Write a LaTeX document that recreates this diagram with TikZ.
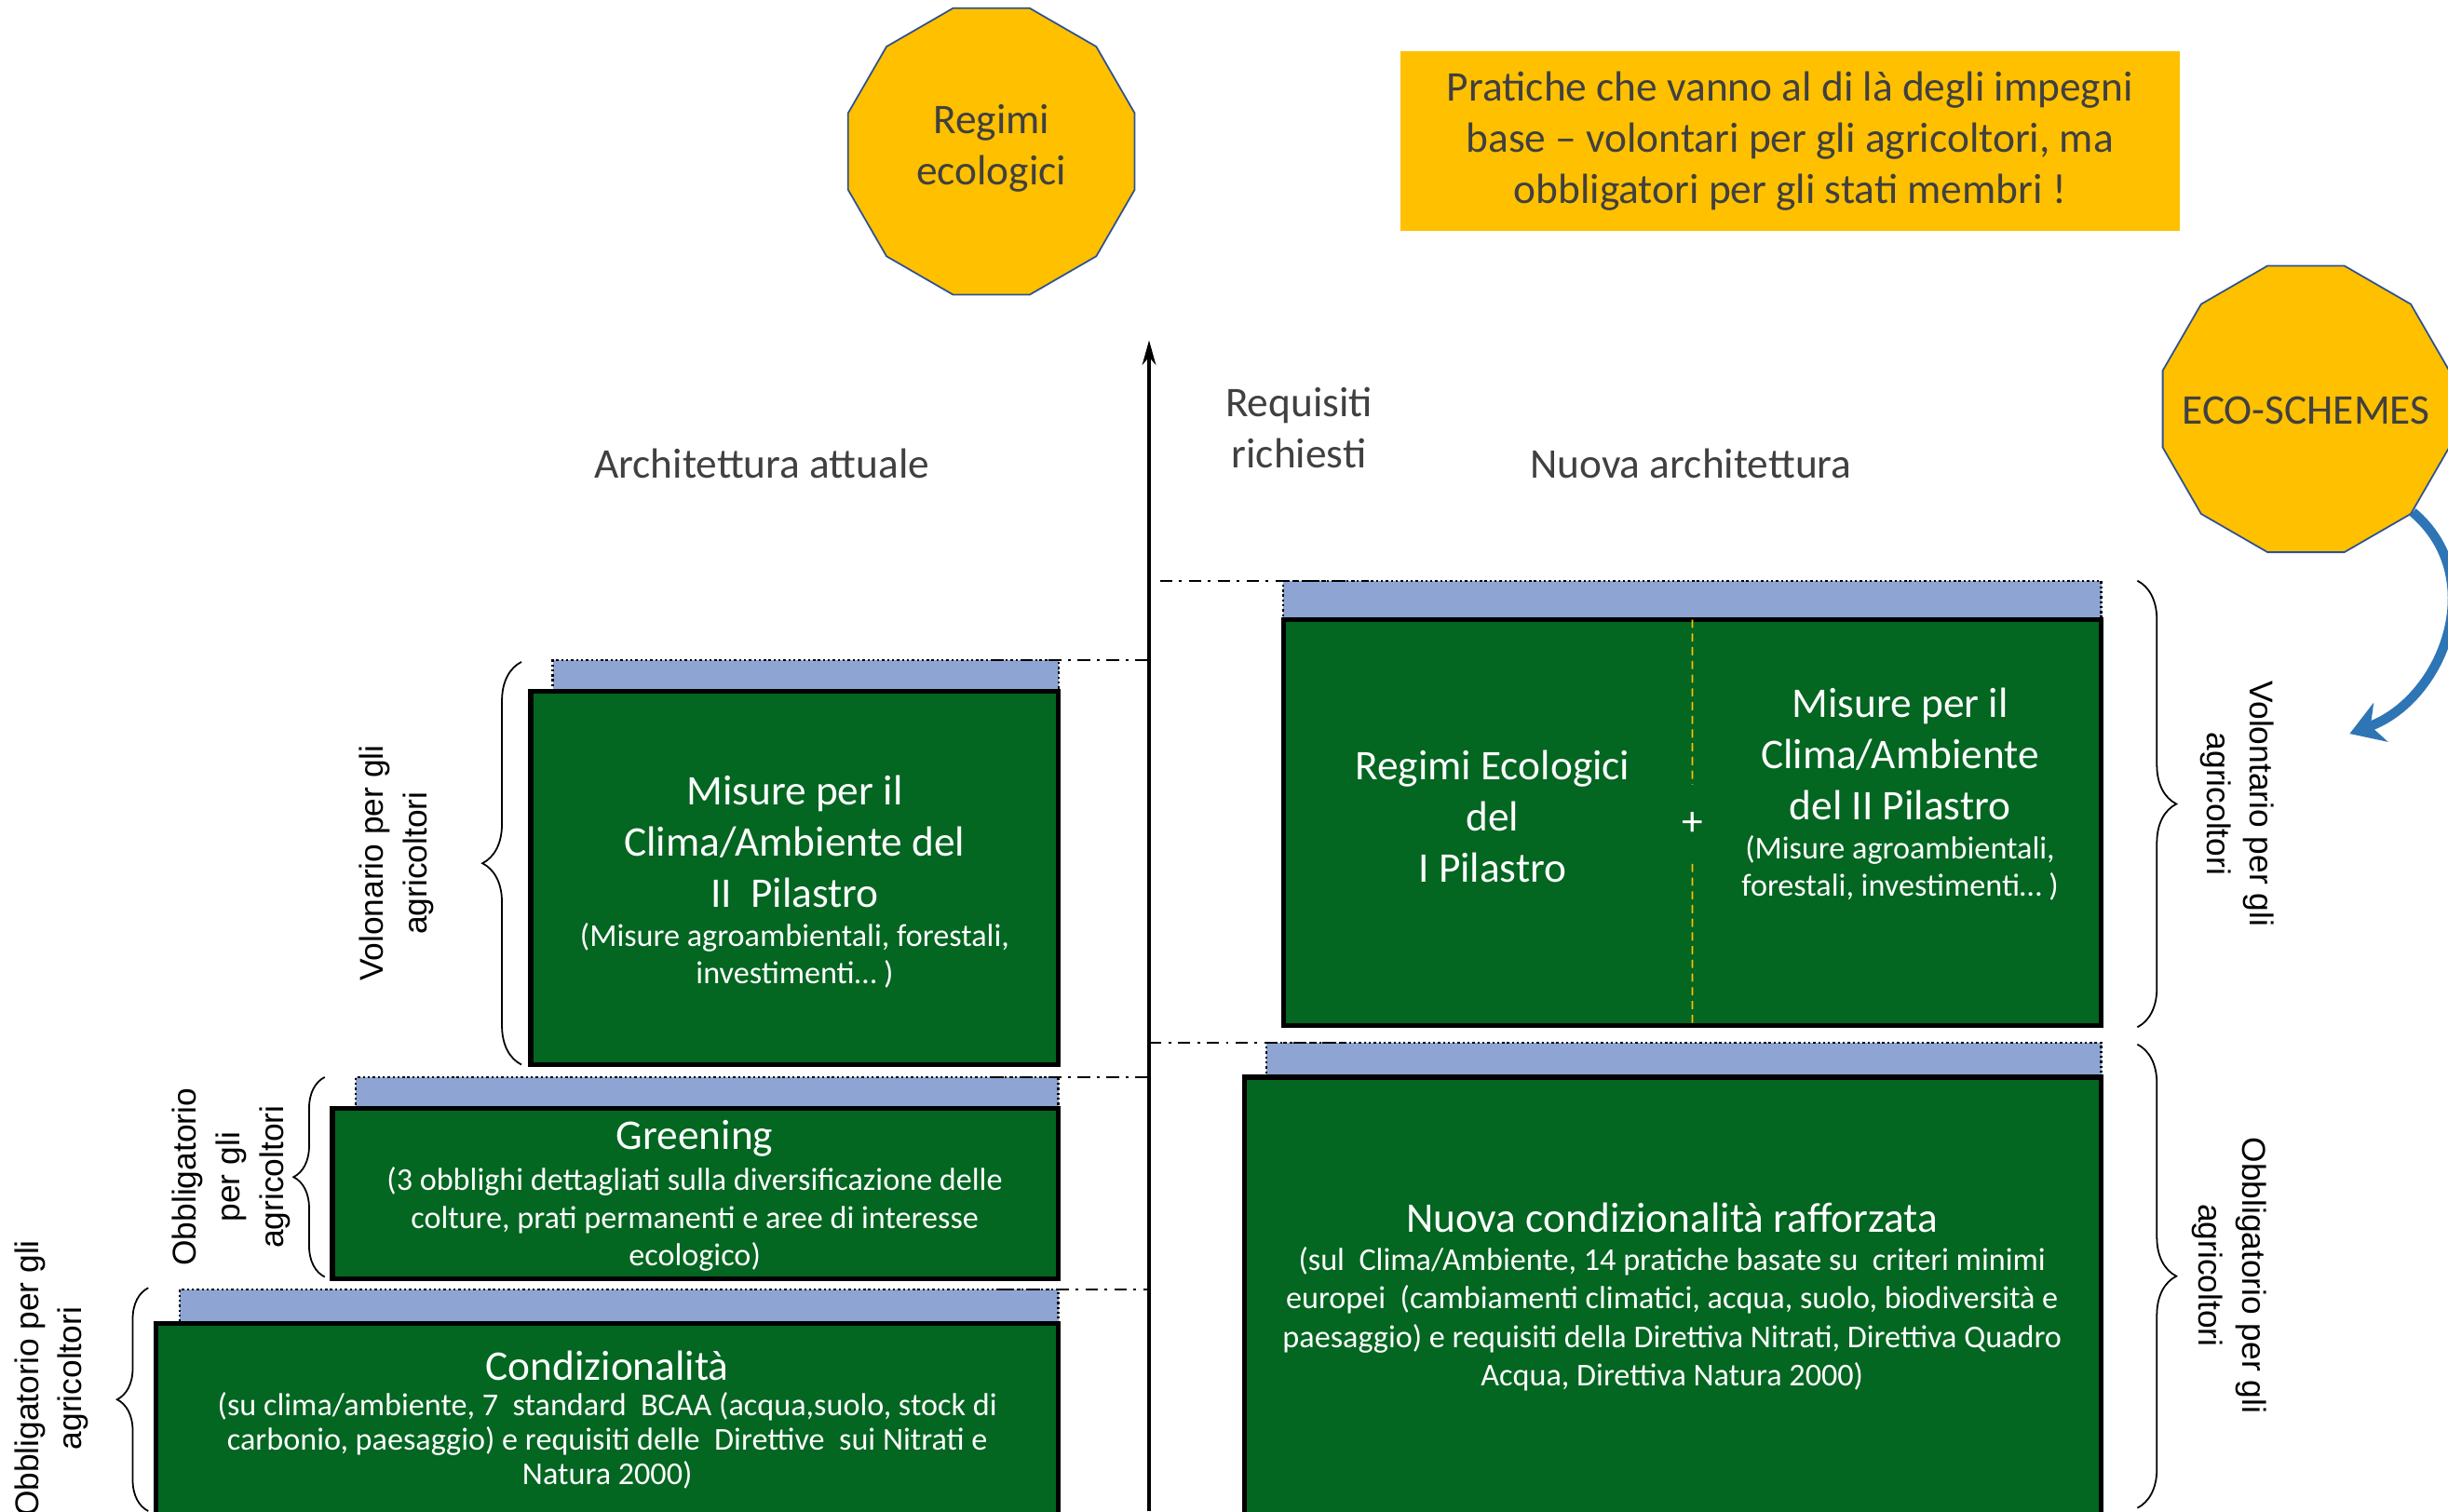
\documentclass[tikz,border=0pt]{standalone}
\usepackage{fontspec}
\setmainfont{Carlito}
\newfontfamily\arialfont{Liberation Sans}
\usetikzlibrary{shapes.geometric,decorations.pathreplacing,arrows.meta}

\definecolor{boxgreen}{RGB}{3,102,33}
\definecolor{barblue}{RGB}{142,165,211}
\definecolor{ecoyellow}{RGB}{255,192,0}
\definecolor{ecoborder}{RGB}{47,82,143}
\definecolor{textgray}{RGB}{64,64,64}
\definecolor{arrowblue}{RGB}{46,117,182}

\tikzset{greenbox/.style={draw=black,line width=1.8pt,fill=boxgreen,inner sep=0pt,outer sep=0pt,anchor=north west},
        bluebar/.style={draw=black,densely dotted,line width=0.8pt,fill=barblue,inner sep=0pt,outer sep=0pt,anchor=north west},
        ecoshape/.style={regular polygon,regular polygon sides=12,fill=ecoyellow,draw=ecoborder,line width=0.6pt,
          minimum size=3.8cm,inner sep=0pt},
        ecotext/.style={text=textgray,align=center,font=\fontsize{15.4}{18.7}\selectfont},
        boxtitle/.style={text=white,align=center,font=\fontsize{15.4}{18.7}\selectfont},
        boxdetail/.style={text=white,align=center,font=\fontsize{11.6}{13.6}\selectfont},
        archlabel/.style={text=textgray,align=center,font=\fontsize{15.4}{18.7}\selectfont},
        sidenote/.style={align=center,font=\arialfont\fontsize{12}{15.9}\selectfont},
        guideline/.style={dash pattern=on 4.5pt off 2.5pt on 1pt off 2.5pt,line width=0.8pt},
        bracket/.style={decorate,decoration={brace,amplitude=#1},line width=0.6pt}}

\begin{document}
\begin{tikzpicture}[x=0.02cm,y=-0.02cm]
        \useasboundingbox (0,0) rectangle (1568,968);

        % eco-schemes and note
        \node[ecoshape] (regimi) at (635,97) {};
        \node[ecotext] (regimit) at (635,95) {Regimi\\ecologici};
        \node[ecoshape] (ecos) at (1477,262) {};
        \node[ecotext] (ecost) at (1477,263) {ECO-SCHEMES};
        \node[fill=ecoyellow,minimum width=9.98cm,minimum height=2.3cm,text=textgray,align=center,
          font=\fontsize{15.4}{18.7}\selectfont] (note) at (1146.5,90.5)
          {Pratiche che vanno al di là degli impegni\\base – volontari per gli agricoltori, ma\\obbligatori per gli stati membri !};

        % axis
        \coordinate (axbot) at (736,968);
        \coordinate (axtop) at (736,218);
        \draw[line width=1.1pt,-{Stealth[length=9pt,width=5pt]}] (axbot) -- (axtop);
        \node[archlabel] (req) at (832,274) {Requisiti\\richiesti};
        \node[archlabel] (attuale) at (488,297) {Architettura attuale};
        \node[archlabel] (nuova) at (1083,297) {Nuova architettura};

        % current architecture
        \node[bluebar,minimum width=11.26cm,minimum height=0.44cm] (condbar) at (115,826) {};
        \node[greenbox,minimum width=11.56cm,minimum height=3.04cm] (cond) at (100,848) {};
        \node[bluebar,minimum width=9cm,minimum height=0.4cm] (grbar) at (228,690) {};
        \node[greenbox,minimum width=9.3cm,minimum height=2.18cm] (gr) at (213,710) {};
        \node[bluebar,minimum width=6.48cm,minimum height=0.4cm] (misbar) at (354,423) {};
        \node[greenbox,minimum width=6.76cm,minimum height=4.78cm] (mis) at (340,443) {};

        \node[boxtitle] (condt) at (389,875) {Condizionalità};
        \node[boxdetail,font=\fontsize{11.6}{12.5}\selectfont] (condd) at (389,923)
          {(su clima/ambiente, 7~~standard~~BCAA (acqua,suolo, stock di\\carbonio, paesaggio) e requisiti delle~~Direttive~~sui Nitrati e\\Natura 2000)};
        \node[boxtitle] (grt) at (445,729) {Greening};
        \node[boxdetail] (grd) at (445,781)
          {(3 obblighi dettagliati sulla diversificazione delle\\colture, prati permanenti e aree di interesse\\ecologico)};
        \node[boxtitle] (mist) at (509,539) {Misure per il\\Clima/Ambiente del\\II~~Pilastro};
        \node[boxdetail] (misd) at (509,612) {(Misure agroambientali, forestali,\\investimenti… )};

        \draw[guideline] ([xshift=-0.86cm]misbar.north east) -- (misbar.north east -| axbot);
        \draw[guideline] ([xshift=-0.86cm]grbar.north east) -- (grbar.north east -| axbot);
        \draw[guideline] ([xshift=-0.76cm]condbar.north east) -- (condbar.north east -| axbot);

        % new architecture
        \node[bluebar,minimum width=10.48cm,minimum height=0.5cm] (ecobar) at (822,372) {};
        \node[greenbox,minimum width=10.48cm,minimum height=5.2cm] (eco) at (822,397) {};
        \node[bluebar,minimum width=10.7cm,minimum height=0.44cm] (nuovabar) at (811,668) {};
        \node[greenbox,minimum width=10.98cm,minimum height=6.2cm] (nuovabox) at (797,690) {};

        \node[boxtitle,minimum height=1cm] (plus) at (1084,528) {+};
        \draw[ecoyellow,densely dashed,line width=0.6pt] (eco.north) -- (plus.north);
        \draw[ecoyellow,densely dashed,line width=0.6pt] (plus.south) -- (eco.south);
        \node[boxtitle] (regt) at (956,523) {Regimi Ecologici\\del\\I Pilastro};
        \node[boxtitle] (cat) at (1217,483) {Misure per il\\Clima/Ambiente\\del II Pilastro};
        \node[boxdetail] (cad) at (1217,556) {(Misure agroambientali,\\forestali, investimenti… )};
        \node[boxtitle] (nuovat) at (1071,780) {Nuova condizionalità rafforzata};
        \node[boxdetail,font=\fontsize{11.6}{14}\selectfont] (nuovad) at (1071,845)
          {(sul~~Clima/Ambiente, 14 pratiche basate su~~criteri minimi\\europei~~(cambiamenti climatici, acqua, suolo, biodiversità e\\paesaggio) e requisiti della Direttiva Nitrati, Direttiva Quadro\\Acqua, Direttiva Natura 2000)};

        \draw[guideline] (axbot |- ecobar.north west) ++(7,0) -- ([xshift=1.1cm]ecobar.north west);
        \draw[guideline] (axbot |- nuovabar.north west) -- ([xshift=1cm]nuovabar.north west);

        % braces
        \draw[bracket=0.5cm] (334,682) -- (334,424);
        \draw[bracket=0.4cm] (208,818) -- (208,690);
        \draw[bracket=0.4cm] (95,968) -- (95,825);
        \draw[bracket=0.5cm] (1369,372) -- (1369,658);
        \draw[bracket=0.5cm] (1369,669) -- (1369,966);

        \node[sidenote,rotate=90] (volL) at (254,553) {Volonario per gli\\agricoltori};
        \node[sidenote,rotate=90] (obbG) at (148,754) {Obbligatorio\\per gli\\agricoltori};
        \node[sidenote,rotate=90] (obbC) at (33,883) {Obbligatorio per gli\\agricoltori};
        \node[sidenote,rotate=-90] (volR) at (1433,515) {Volontario per gli\\agricoltori};
        \node[sidenote,rotate=-90] (obbR) at (1428,817) {Obbligatorio per gli\\agricoltori};

        % eco-schemes arrow
        \draw[arrowblue,line width=3.5pt,-{Stealth[length=12pt,width=15pt]}]
          (ecos.-44) .. controls (1595,370) and (1565,448) .. (1505,470);
\end{tikzpicture}
\end{document}
